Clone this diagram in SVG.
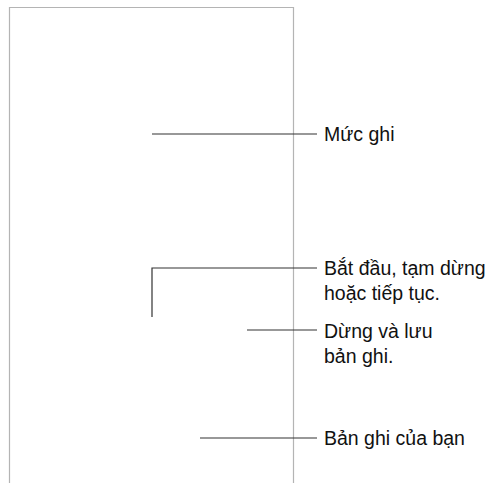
<svg xmlns="http://www.w3.org/2000/svg" width="491" height="483" viewBox="0 0 491 483">
<style>
.frame{fill:none;stroke:#b4b4b4;stroke-width:1.2}
.conn{fill:none;stroke:#333;stroke-width:1.2}
text{font-family:"Liberation Sans",Arial,sans-serif;font-size:19.5px;fill:#111}
</style>
<rect x="0" y="0" width="491" height="483" fill="#fff"/>
<g id="frame">
<path class="frame" d="M9.5,483 V7.5 H293.5 V483"/>
</g>
<g id="connectors">
<path class="conn" d="M152,134 H317"/>
<path class="conn" d="M152,317 V268 H317"/>
<path class="conn" d="M247,330 H317"/>
<path class="conn" d="M200,438 H317"/>
</g>
<g id="label-muc-ghi"><text x="324" y="141">Mức ghi</text></g>
<g id="label-bat-dau"><text x="324" y="275">Bắt đầu, tạm dừng</text><text x="324" y="300">hoặc tiếp tục.</text></g>
<g id="label-dung-luu"><text x="324" y="337.5">Dừng và lưu</text><text x="324" y="362.5">bản ghi.</text></g>
<g id="label-ban-ghi"><text x="324" y="445">Bản ghi của bạn</text></g>
</svg>
